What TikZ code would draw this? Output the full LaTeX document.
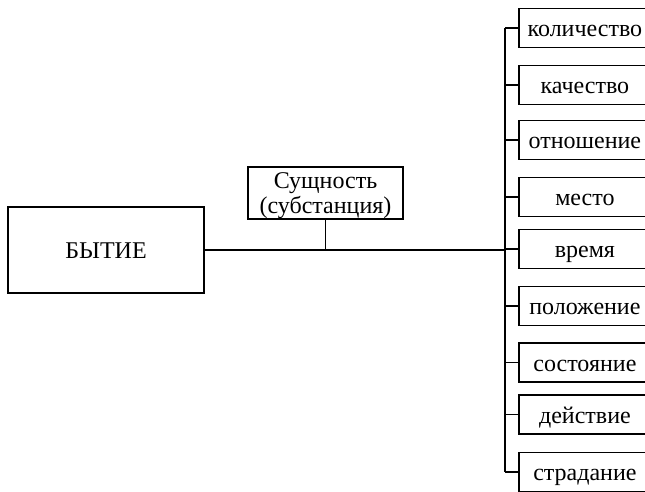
\documentclass[tikz,border=0pt]{standalone}
\usepackage{fontspec}
\setmainfont{Liberation Serif}
\begin{document}
\begin{tikzpicture}[x=1pt,y=-1pt,
  box/.style={draw,line width=1.8pt,inner sep=0pt,align=center,font=\fontsize{24}{24.5}\selectfont},
  cat/.style={box,minimum width=132pt,minimum height=39pt,anchor=west,text height=17pt,text depth=0pt},
  link/.style={line width=1.8pt}]
\useasboundingbox (0,0) rectangle (645,491);
\clip (0,0) rectangle (645,491);
\node[box,minimum width=196pt,minimum height=86pt,text height=16pt,text depth=0pt] (being) at (106,250) {БЫТИЕ};
\node[box,minimum width=155pt,minimum height=52pt,text height=44pt,text depth=4pt] (subst) at (325.5,193) {Сущность\\(субстанция)};
\node[cat] (c1) at (518,28) {количество};
\node[cat] (c2) at (518,85) {качество};
\node[cat] (c3) at (518,140) {отношение};
\node[cat] (c4) at (518,197) {место};
\node[cat] (c5) at (518,249) {время};
\node[cat] (c6) at (518,306) {положение};
\node[cat] (c7) at (518,362.5) {состояние};
\node[cat] (c8) at (518,414.5) {действие};
\node[cat] (c9) at (518,472) {страдание};
\coordinate (top) at (505,28);
\coordinate (bot) at (505,472);
\coordinate (mid) at (505,250);
\coordinate (join) at (subst.south |- mid);
\draw[link] (top) -- (bot);
\draw[link] (being.east) -- (mid);
\draw[link] (subst.south) -- (join);
\foreach \i in {1,...,9} {\draw[link] (c\i.west) -- (c\i.west -| top);}
\end{tikzpicture}
\end{document}
